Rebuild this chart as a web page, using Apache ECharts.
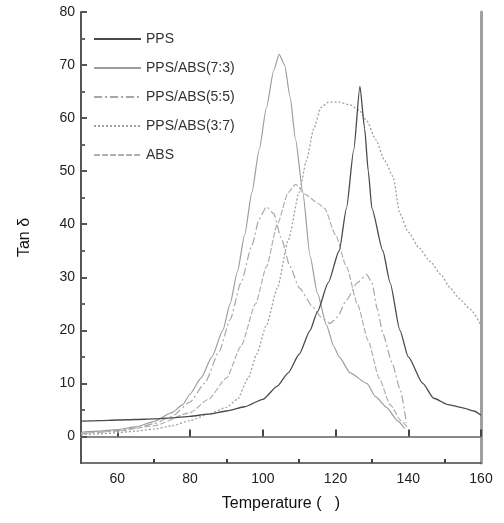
<!DOCTYPE html>
<html><head><meta charset="utf-8">
<script src="https://cdn.jsdelivr.net/npm/echarts@6/dist/echarts.min.js"></script>
<style>html,body{margin:0;padding:0;background:#fff}#c{width:504px;height:523px}</style>
</head><body><div id="c"></div>
<script>
var seriesNames = ['PPS', 'PPS/ABS(7:3)', 'PPS/ABS(5:5)', 'PPS/ABS(3:7)', 'ABS'];
var xTickLabels = [60, 80, 100, 120, 140, 160];
var yTickLabels = [0, 10, 20, 30, 40, 50, 60, 70, 80];

var ppsT = [50,55,60,65,70,75,80,85,90,95,100,104,107,110,113,115,118,121,123,125,126.7,128,129,130,133,135,137.7,140,144,147,151,155,158,160];
var ppsV = [2.9,3.0,3.1,3.2,3.3,3.5,3.8,4.2,4.8,5.6,7.0,9.5,12,15.5,20,23.5,29,35,43,54,66,58,50,43,35,29,20,15,10,7.2,6.0,5.4,4.8,4.0];

var r73T = [50,55,60,65,70,75,78,80,83,86,89,91,93,95,97,99,101,103,104.5,106,107.5,109,111,113,115,117.5,119.5,121,124,128.6,131,134,137,139];
var r73V = [0.8,1.0,1.3,1.8,2.8,4.5,6,8,11,15,20,25,31,38,46,54,62,69,72,70,64,56,46,34,27,21,17,15,12,10,7.5,5.5,3,1.5];

var r55T = [50,55,60,65,70,75,80,84,88,91,94,97,99,101,103,105,107.5,110,113.8,116,118.5,120.5,123,126,128.6,130,131.5,133,135.5,137.7,139.5];
var r55V = [0.5,0.8,1.1,1.6,2.4,3.8,6.5,10,16,22,29,36,41,43.3,42,37.5,32,28,24.4,22.5,21.3,22.5,25.7,29,30.5,29,24,19.4,14,9,2.5];

var r37T = [50,55,60,65,70,75,80,85,90,93,96,98.3,101,104,107,110,112,114,116,118,121,124,126.5,128.6,131,133.5,135.8,137.7,140,143,146,149,151.5,154,157,160];
var r37V = [0.3,0.5,0.7,1.0,1.4,2.0,3.0,4.2,5.5,7,11,15.5,21,28,37,46,52,58,62,63,63,62.5,61.5,59.5,56,52,49,42,38.5,35.5,33,30.5,28,26,24,21];

var absT = [50,60,70,80,85,90,94,98,101,104,107,109,112,115,117,120,123,126,129,132,135,138,140];
var absV = [0.6,1.0,2.0,4.5,7,11,17,25,32,40,46,47.5,45.5,44,43,38,32,25,18,11,6,3,1.5];

function pairs(t, v) { return t.map(function (x, i) { return [x, v[i]]; }); }

var font = 'Liberation Sans, Arial, sans-serif';
var chart = echarts.init(document.getElementById('c'), null, {renderer: 'canvas'});
var lineStyles = [
  {color: '#4a4a4a', width: 1.3, type: 'solid'},
  {color: '#9d9d9d', width: 1.2, type: 'solid'},
  {color: '#a6a6a6', width: 1.2, type: [8, 3, 2, 3]},
  {color: '#a0a0a0', width: 1.3, type: [2, 2]},
  {color: '#b0b0b0', width: 1.2, type: [6, 2]}
];
var datasets = [pairs(ppsT, ppsV), pairs(r73T, r73V), pairs(r55T, r55V), pairs(r37T, r37V), pairs(absT, absV)];

chart.setOption({
  animation: false,
  backgroundColor: '#fff',
  grid: {left: 81, right: 23, top: 12, bottom: 60, show: false},
  legend: {
    orient: 'vertical', left: 88, top: 27,
    itemWidth: 47, itemHeight: 14, itemGap: 15,
    itemStyle: {opacity: 0},
    textStyle: {fontFamily: font, fontSize: 14, color: '#333'},
    data: seriesNames
  },
  xAxis: [{
    type: 'value', min: 50, max: 160, interval: 10,
    name: 'Temperature (   )', nameLocation: 'middle', nameGap: 33,
    nameTextStyle: {fontFamily: font, fontSize: 16, color: '#111'},
    axisLine: {lineStyle: {color: '#555', width: 2}},
    axisTick: {inside: true, length: 7, lineStyle: {color: '#444', width: 2}, customValues: [60, 80, 100, 120, 140, 160]},
    axisLabel: {fontFamily: font, fontSize: 14, color: '#222', margin: 9, customValues: xTickLabels},
    splitLine: {show: false}
  }, {
    type: 'value', min: 50, max: 160, interval: 10, gridIndex: 0,
    axisLine: {show: true, onZero: false, lineStyle: {color: '#444', width: 1.5}},
    axisTick: {inside: true, length: 4, lineStyle: {color: '#444', width: 2}, customValues: [70, 90, 110, 130, 150]},
    axisLabel: {show: false}, splitLine: {show: false}, position: 'bottom'
  }, {
    type: 'value', min: 50, max: 160, position: 'top',
    axisLine: {show: true, lineStyle: {color: '#999', width: 1.5}},
    axisTick: {show: false}, axisLabel: {show: false}, splitLine: {show: false}
  }],
  yAxis: [{
    type: 'value', min: -5, max: 80, interval: 5,
    name: 'Tan δ', nameLocation: 'middle', nameGap: 48,
    nameTextStyle: {fontFamily: font, fontSize: 16, color: '#111'},
    axisLine: {show: true, lineStyle: {color: '#555', width: 2}},
    axisTick: {inside: true, length: 6, lineStyle: {color: '#555', width: 2}, customValues: yTickLabels},
    axisLabel: {fontFamily: font, fontSize: 14, color: '#222', margin: 6, customValues: yTickLabels},
    splitLine: {show: false}
  }, {
    type: 'value', min: -5, max: 80, interval: 5, position: 'left',
    axisLine: {show: false},
    axisTick: {inside: true, length: 4, lineStyle: {color: '#666', width: 2}, customValues: [5, 15, 25, 35, 45, 55, 65, 75]},
    axisLabel: {show: false}, splitLine: {show: false}
  }, {
    type: 'value', min: -5, max: 80, position: 'right',
    axisLine: {show: true, lineStyle: {color: '#a0a0a0', width: 3}},
    axisTick: {show: false}, axisLabel: {show: false}, splitLine: {show: false}
  }],
  series: seriesNames.map(function (n, i) {
    return {
      name: n, type: 'line', xAxisIndex: 0, yAxisIndex: 0,
      data: datasets[i], symbol: 'none', smooth: 0.2, smoothMonotone: 'x',
      lineStyle: lineStyles[i], itemStyle: {color: lineStyles[i].color},
      z: i === 0 ? 5 : 3
    };
  })
});
</script>
</body></html>
